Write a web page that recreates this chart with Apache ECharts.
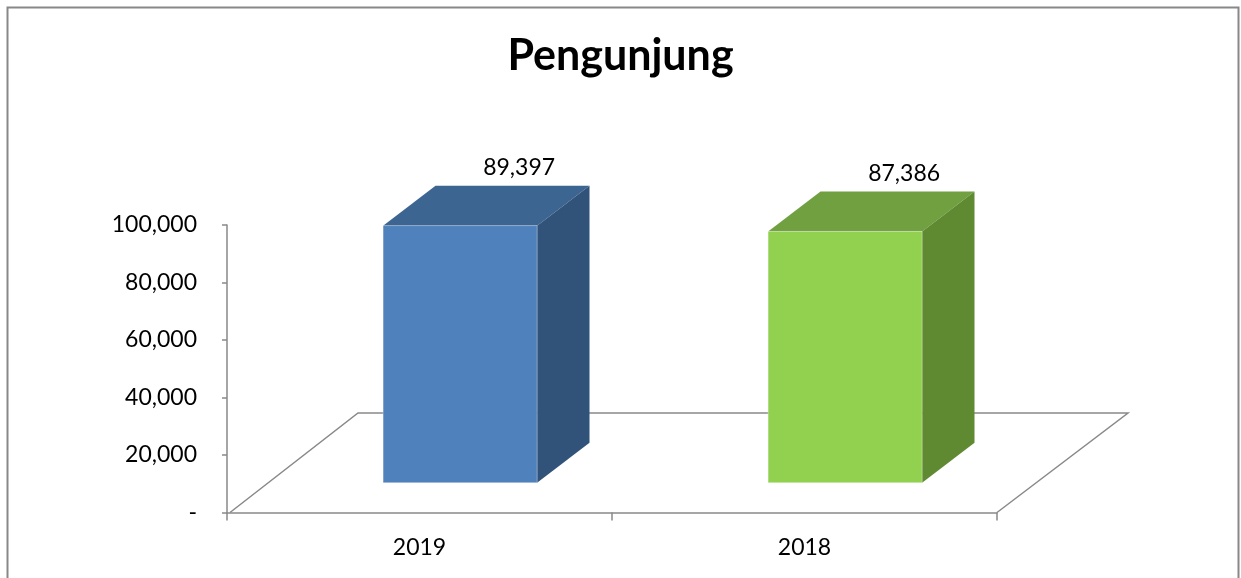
<!DOCTYPE html>
<html>
<head>
<meta charset="utf-8">
<title>Pengunjung</title>
<script src="https://cdn.jsdelivr.net/npm/echarts@6/dist/echarts.min.js"></script>
<style>
html, body { margin: 0; padding: 0; background: #fff; }
#chart { width: 1241px; height: 578px; }
</style>
</head>
<body>
<div id="chart"></div>
<script>
// data
const years = ['2019', '2018'];
const visitors = [89397, 87386];
const yTicks = [0, 20000, 40000, 60000, 80000, 100000];

const frontColors = ['#4F81BD', '#92D050'];
const topColors = ['#3D6591', '#71A041'];
const sideColors = ['#31537A', '#5F8A32'];

// oblique "3d" floor depth (px), bars sit between 30% and 70% of it
const floorDx = 131;
const floorDy = 99.5;

const fmt = v => v === 0 ? '-' : v.toLocaleString('en-US');

const chart = echarts.init(document.getElementById('chart'));

function renderFloor(params, api) {
    const cs = params.coordSys;
    const x0 = cs.x, y0 = cs.y + cs.height, x1 = cs.x + cs.width;
    return {
        type: 'polyline',
        shape: {
            points: [
                [x0 + 3, y0],
                [x0 + floorDx, y0 - floorDy],
                [x1 + floorDx, y0 - floorDy],
                [x1, y0]
            ]
        },
        style: { stroke: '#898989', lineWidth: 1.5, fill: null }
    };
}

function renderBar(params, api) {
    const idx = api.value(0);
    const val = api.value(1);
    const base = api.coord([idx, 0]);
    const top = api.coord([idx, val]);
    const bw = api.size([1, 0])[0] * 0.4;
    const ox = 0.31 * floorDx, oy = 0.3 * floorDy;
    const dx = 0.4 * floorDx, dy = 0.4 * floorDy;
    const l = base[0] - bw / 2 + ox, r = base[0] + bw / 2 + ox;
    const b = base[1] - oy, t = top[1] - oy;
    const i = params.dataIndex;
    return {
        type: 'group',
        children: [
            {
                type: 'polygon',
                shape: { points: [[l, t], [r, t], [r + dx, t - dy], [l + dx, t - dy]] },
                style: { fill: topColors[i] }
            },
            {
                type: 'polygon',
                shape: { points: [[r, t], [r + dx, t - dy], [r + dx, b - dy], [r, b]] },
                style: { fill: sideColors[i] }
            },
            {
                type: 'rect',
                shape: { x: l, y: t, width: r - l, height: b - t },
                style: { fill: frontColors[i], stroke: 'rgba(255,255,255,0.3)', lineWidth: 1 }
            },
            {
                type: 'text',
                x: (l + r) / 2 + 59,
                y: t - 58,
                style: {
                    text: fmt(val),
                    fontFamily: 'Lato',
                    fontSize: 23,
                    fill: '#000',
                    align: 'center',
                    verticalAlign: 'middle'
                }
            }
        ]
    };
}

const option = {
    animation: false,
    backgroundColor: '#fff',
    textStyle: { fontFamily: 'Lato' },
    title: {
        text: 'Pengunjung',
        left: 'center',
        top: 30,
        textStyle: { fontFamily: 'Lato', fontWeight: 'bold', fontSize: 43, color: '#000' }
    },
    graphic: [{
        type: 'rect',
        shape: { x: 7.5, y: 7.5, width: 1231, height: 620 },
        style: { fill: null, stroke: '#888', lineWidth: 2 },
        silent: true
    }],
    grid: { left: 227, right: 244, top: 225, bottom: 65.5, containLabel: false },
    xAxis: {
        type: 'category',
        data: years,
        axisLine: { show: true, lineStyle: { color: '#898989', width: 1.5 } },
        axisTick: { show: true, length: 8, lineStyle: { color: '#898989', width: 1.5 } },
        axisLabel: { fontSize: 23, color: '#000', margin: 24, fontFamily: 'Lato' }
    },
    yAxis: {
        type: 'value',
        min: 0,
        max: 100000,
        interval: 20000,
        splitLine: { show: false },
        axisLine: { show: true, lineStyle: { color: '#898989', width: 1.5 } },
        axisTick: { show: true, length: 5, lineStyle: { color: '#898989', width: 1.5 } },
        axisLabel: {
            fontSize: 23,
            color: '#000',
            margin: 30,
            fontFamily: 'Lato',
            formatter: v => yTicks.includes(v) ? fmt(v) : ''
        }
    },
    series: [
        {
            type: 'custom',
            name: 'floor',
            renderItem: renderFloor,
            data: [[0, 0]],
            z: 1,
            silent: true
        },
        {
            type: 'custom',
            name: 'Pengunjung',
            renderItem: renderBar,
            data: visitors.map((v, i) => [i, v]),
            encode: { x: 0, y: 1 },
            z: 2
        }
    ]
};

chart.setOption(option);
</script>
</body>
</html>
